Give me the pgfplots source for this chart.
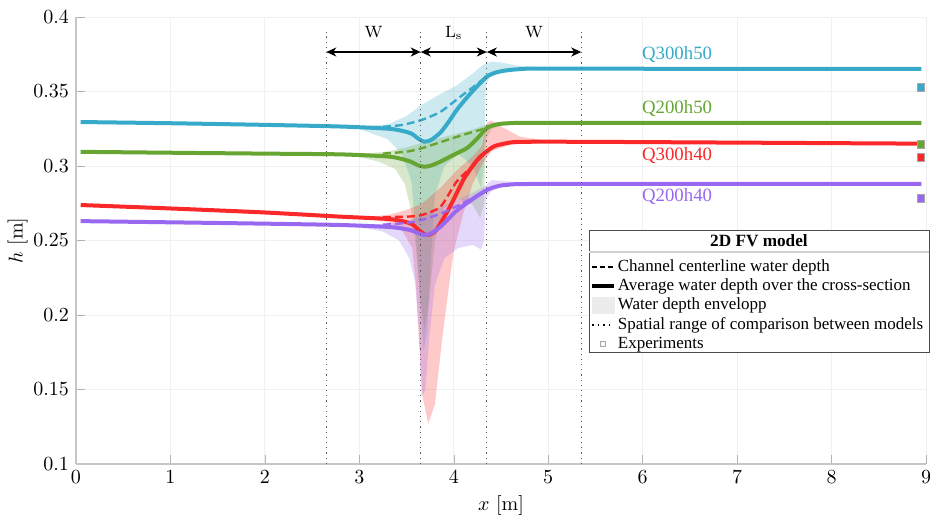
\documentclass[border=0pt]{standalone}
\usepackage{fontspec}
\newfontfamily\timesfont{Liberation Serif}
\usepackage{pgfplots}
\pgfplotsset{compat=1.18}
\usetikzlibrary{arrows.meta,calc}
\definecolor{cblue}{RGB}{54,170,200}
\definecolor{cgreen}{RGB}{102,165,50}
\definecolor{cred}{RGB}{250,40,40}
\definecolor{cpurple}{RGB}{152,104,240}
\begin{document}
\begin{tikzpicture}
\begin{axis}[
 scale only axis, width=425pt, height=223.5pt,
 xmin=0, xmax=9, ymin=0.1, ymax=0.4,
 xtick={0,1,2,3,4,5,6,7,8,9}, ytick={0.1,0.15,0.2,0.25,0.3,0.35,0.4},
 scaled y ticks=false,
 axis x line*=bottom, axis y line*=left,
 axis line style={gray!45, line width=0.8pt},
 tick style={gray!60},
 grid=major, major grid style={gray!12, line width=0.4pt},
 ticklabel style={font=\fontsize{9.8}{11}\selectfont},
 label style={font=\fontsize{10}{12}\selectfont},
 xlabel={$x$ [m]}, ylabel={$h$ [m]},
 ylabel style={yshift=-4pt}, xlabel style={yshift=1pt},
 clip=false,
 legend style={at={(0.5975,0.4725)}, anchor=north west, draw=none, fill=none,
   font=\timesfont\fontsize{8.5}{9.6}\selectfont, row sep=0pt, column sep=0pt,
   nodes={inner sep=1pt, text height=6pt, text depth=1.65pt}},
 legend cell align=left,
]
% legend images
\addlegendimage{legend image code/.code={\draw[black, line width=0.9pt, dash pattern=on 2.6pt off 1.4pt] (0pt,0pt) -- (11pt,0pt);}}
\addlegendentry{Channel centerline water depth}
\addlegendimage{legend image code/.code={\draw[black, line width=1.8pt] (0pt,0pt) -- (11pt,0pt);}}
\addlegendentry{Average water depth over the cross-section}
\addlegendimage{legend image code/.code={\fill[gray!15] (0pt,-4pt) rectangle (11pt,4pt);}}
\addlegendentry{Water depth envelopp}
\addlegendimage{legend image code/.code={\draw[black, line width=0.8pt, dotted] (0pt,0pt) -- (11pt,0pt);}}
\addlegendentry{Spatial range of comparison between models}
\addlegendimage{legend image code/.code={\draw[gray!70, line width=0.3pt] (4.3pt,-1.2pt) rectangle (6.7pt,1.2pt);}}
\addlegendentry{Experiments}

% envelopes
\addplot[forget plot, draw=none, fill=cblue, fill opacity=0.25] coordinates {
(0.05,0.3297) (2.6,0.3266) (3.0,0.3265) (3.3,0.328) (3.5,0.3335) (3.66,0.341) (3.85,0.348) (4.03,0.354) (4.2,0.362) (4.31,0.368) (4.4,0.3700) (4.5,0.3695) (4.7,0.367) (5.0,0.3660) (5.3,0.3654) (8.95,0.3653)
(8.95,0.3650) (5.0,0.3648) (4.6,0.3638) (4.4,0.361) (4.34,0.355) (4.32,0.30) (4.29,0.285) (4.2,0.300) (4.05,0.308) (3.9,0.300) (3.8,0.28) (3.76,0.24) (3.72,0.19) (3.68,0.176) (3.64,0.21) (3.6,0.255) (3.55,0.29) (3.45,0.308) (3.3,0.318) (3.0,0.3248) (2.6,0.3262) (0.05,0.3293)} -- cycle;
\addplot[forget plot, draw=none, fill=cgreen, fill opacity=0.25] coordinates {
(0.05,0.3098) (2.6,0.3082) (3.0,0.308) (3.3,0.3098) (3.5,0.3125) (3.66,0.3155) (3.9,0.3195) (4.2,0.3245) (4.33,0.3275) (4.45,0.3295) (4.7,0.3296) (8.95,0.3292)
(8.95,0.3287) (4.7,0.3285) (4.5,0.327) (4.4,0.325) (4.34,0.318) (4.32,0.275) (4.28,0.265) (4.2,0.274) (4.05,0.278) (3.9,0.272) (3.8,0.25) (3.74,0.21) (3.69,0.19) (3.64,0.215) (3.6,0.245) (3.55,0.27) (3.48,0.288) (3.38,0.298) (3.2,0.303) (3.0,0.306) (2.6,0.3075) (0.05,0.3092)} -- cycle;
\addplot[forget plot, draw=none, fill=cred, fill opacity=0.25] coordinates {
(0.05,0.2743) (2.6,0.2666) (3.0,0.2658) (3.3,0.267) (3.5,0.2705) (3.66,0.2745) (3.86,0.2855) (4.03,0.297) (4.2,0.3065) (4.3,0.3135) (4.35,0.329) (4.4,0.3305) (4.5,0.3265) (4.7,0.3197) (5.0,0.3168) (5.3,0.3164) (8.95,0.3153)
(8.95,0.3147) (5.0,0.3157) (4.6,0.3143) (4.4,0.310) (4.3,0.301) (4.2,0.288) (4.1,0.268) (4.0,0.243) (3.95,0.22) (3.87,0.18) (3.8,0.14) (3.73,0.127) (3.67,0.145) (3.63,0.185) (3.6,0.22) (3.56,0.245) (3.45,0.257) (3.3,0.2625) (3.0,0.2648) (2.6,0.2658) (0.05,0.2737)} -- cycle;
\addplot[forget plot, draw=none, fill=cpurple, fill opacity=0.25] coordinates {
(0.05,0.2633) (2.6,0.2607) (3.0,0.2603) (3.3,0.2612) (3.5,0.263) (3.66,0.2668) (3.85,0.272) (4.03,0.277) (4.2,0.282) (4.33,0.2865) (4.4,0.2905) (4.55,0.2898) (4.8,0.2886) (8.95,0.2882)
(8.95,0.2877) (4.8,0.2875) (4.5,0.286) (4.4,0.283) (4.34,0.278) (4.32,0.25) (4.29,0.244) (4.2,0.247) (4.05,0.245) (3.9,0.238) (3.8,0.22) (3.74,0.185) (3.7,0.15) (3.66,0.145) (3.63,0.19) (3.59,0.222) (3.53,0.238) (3.42,0.25) (3.25,0.256) (3.0,0.259) (2.6,0.2601) (0.05,0.2627)} -- cycle;

% average lines
\addplot[forget plot, cblue, line width=2pt, smooth, tension=0.4] coordinates {
(0.05,0.3295) (1,0.3287) (2,0.3276) (2.8,0.3265) (3.33,0.3249) (3.54,0.3221) (3.62,0.3185) (3.69,0.3163) (3.76,0.3175) (3.86,0.3225) (3.95,0.330) (4.03,0.3375) (4.12,0.3445) (4.21,0.351) (4.35,0.3600) (4.45,0.3628) (4.55,0.3641) (4.70,0.3650) (5.0,0.3653) (8.95,0.3651)};
\addplot[forget plot, cgreen, line width=2pt, smooth, tension=0.4] coordinates {
(0.05,0.3095) (1,0.3089) (2,0.3083) (2.8,0.3078) (3.33,0.3062) (3.54,0.3030) (3.62,0.3005) (3.69,0.2995) (3.76,0.3003) (3.86,0.3030) (4.03,0.3085) (4.14,0.312) (4.25,0.3185) (4.35,0.3255) (4.45,0.3278) (4.56,0.3286) (5.0,0.3290) (8.95,0.3290)};
\addplot[forget plot, cred, line width=2pt, smooth, tension=0.4] coordinates {
(0.05,0.2738) (1,0.2715) (2,0.2688) (2.8,0.2660) (3.33,0.2643) (3.54,0.2615) (3.62,0.2575) (3.70,0.2538) (3.76,0.2543) (3.82,0.2575) (3.96,0.2727) (4.10,0.2906) (4.20,0.3000) (4.28,0.3062) (4.42,0.3130) (4.55,0.3152) (4.70,0.3162) (5.5,0.3162) (8.95,0.3150)};
\addplot[forget plot, cpurple, line width=2pt, smooth, tension=0.4] coordinates {
(0.05,0.2630) (1,0.2622) (2,0.2613) (2.8,0.2604) (3.33,0.2590) (3.54,0.2570) (3.62,0.2550) (3.70,0.2536) (3.78,0.2555) (3.86,0.2593) (3.95,0.2650) (4.03,0.2700) (4.21,0.2783) (4.35,0.2839) (4.45,0.2862) (4.56,0.2873) (5.0,0.2880) (8.95,0.2880)};

% centerline (dashed)
\addplot[forget plot, cblue, line width=1.2pt, dash pattern=on 4pt off 2pt, smooth, tension=0.4] coordinates {
(3.25,0.3263) (3.45,0.3275) (3.66,0.3309) (3.86,0.3364) (4.07,0.3465) (4.21,0.3532) (4.35,0.3600) (4.45,0.3628)};
\addplot[forget plot, cgreen, line width=1.2pt, dash pattern=on 4pt off 2pt, smooth, tension=0.4] coordinates {
(3.25,0.3083) (3.5,0.3096) (3.66,0.3119) (3.86,0.3160) (4.03,0.3195) (4.21,0.3230) (4.35,0.3255) (4.45,0.3278)};
\addplot[forget plot, cred, line width=1.2pt, dash pattern=on 4pt off 2pt, smooth, tension=0.4] coordinates {
(3.25,0.2657) (3.5,0.2660) (3.66,0.2671) (3.86,0.2727) (4.03,0.2895) (4.21,0.3007) (4.35,0.3100) (4.45,0.3135)};
\addplot[forget plot, cpurple, line width=1.2pt, dash pattern=on 4pt off 2pt, smooth, tension=0.4] coordinates {
(3.25,0.2606) (3.5,0.2618) (3.66,0.2638) (3.86,0.2680) (4.03,0.2730) (4.2,0.2785) (4.35,0.2839) (4.45,0.2862)};

% experiments
\addplot[forget plot, only marks, mark=square*, mark size=1.8pt, draw=gray!70, line width=0.3pt, fill=cblue] coordinates {(8.946,0.3528)};
\addplot[forget plot, only marks, mark=square*, mark size=1.8pt, draw=gray!70, line width=0.3pt, fill=cgreen] coordinates {(8.946,0.3146)};
\addplot[forget plot, only marks, mark=square*, mark size=1.8pt, draw=gray!70, line width=0.3pt, fill=cred] coordinates {(8.946,0.3058)};
\addplot[forget plot, only marks, mark=square*, mark size=1.8pt, draw=gray!70, line width=0.3pt, fill=cpurple] coordinates {(8.946,0.2783)};

% spatial range lines
\addplot[forget plot, black!65, dotted, line width=0.6pt] coordinates {(2.65,0.1) (2.65,0.39)};
\addplot[forget plot, black!65, dotted, line width=0.6pt] coordinates {(3.65,0.1) (3.65,0.39)};
\addplot[forget plot, black!65, dotted, line width=0.6pt] coordinates {(4.35,0.1) (4.35,0.39)};
\addplot[forget plot, black!65, dotted, line width=0.6pt] coordinates {(5.35,0.1) (5.35,0.39)};

\draw[{Stealth[length=5pt,width=4.5pt,inset=1.5pt]}-{Stealth[length=5pt,width=4.5pt,inset=1.5pt]}, line width=0.6pt] (axis cs:2.65,0.3765) -- (axis cs:3.65,0.3765);
\draw[{Stealth[length=5pt,width=4.5pt,inset=1.5pt]}-{Stealth[length=5pt,width=4.5pt,inset=1.5pt]}, line width=0.6pt] (axis cs:3.65,0.3765) -- (axis cs:4.35,0.3765);
\draw[{Stealth[length=5pt,width=4.5pt,inset=1.5pt]}-{Stealth[length=5pt,width=4.5pt,inset=1.5pt]}, line width=0.6pt] (axis cs:4.35,0.3765) -- (axis cs:5.35,0.3765);
\node[font=\fontsize{8.2}{10}\selectfont] at (axis cs:3.15,0.390) {W};
\node[font=\fontsize{8.2}{10}\selectfont] at (axis cs:4.0,0.389) {L$_\mathrm{s}$};
\node[font=\fontsize{8.2}{10}\selectfont] at (axis cs:4.85,0.390) {W};

% curve labels
\node[anchor=west, inner sep=0pt, text=cblue, font=\timesfont\fontsize{9.4}{11}\selectfont] at (axis cs:5.99,0.3745) {Q300h50};
\node[anchor=west, inner sep=0pt, text=cgreen, font=\timesfont\fontsize{9.4}{11}\selectfont] at (axis cs:5.99,0.3387) {Q200h50};
\node[anchor=west, inner sep=0pt, text=cred, font=\timesfont\fontsize{9.4}{11}\selectfont] at (axis cs:5.99,0.3069) {Q300h40};
\node[anchor=west, inner sep=0pt, text=cpurple, font=\timesfont\fontsize{9.4}{11}\selectfont] at (axis cs:5.99,0.2794) {Q200h40};

% legend frame and title
\draw[black!70, line width=0.4pt, fill=white] (rel axis cs:0.6035,0.2506) rectangle (rel axis cs:1.0035,0.5235);
\draw[gray!35, line width=1pt] (rel axis cs:0.6035,0.4743) -- (rel axis cs:1.0035,0.4743);
\node[font=\timesfont\bfseries\fontsize{8.6}{9.6}\selectfont] at (rel axis cs:0.8035,0.4989) {2D FV model};
\end{axis}
\pgfresetboundingbox
\path[use as bounding box] ($(current axis.south west)+(-38pt,-27pt)$) rectangle ($(current axis.north east)+(2pt,8.5pt)$);
\end{tikzpicture}
\end{document}
